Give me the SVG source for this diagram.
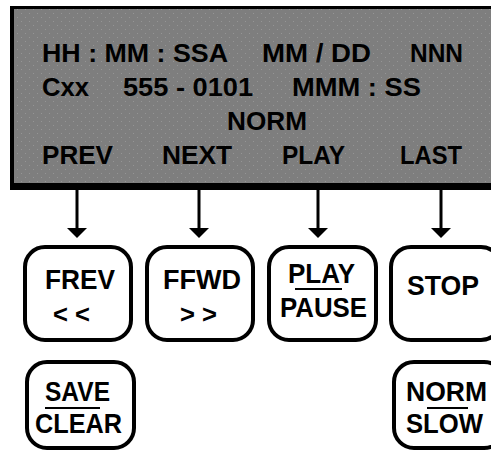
<svg xmlns="http://www.w3.org/2000/svg" width="491" height="453" viewBox="0 0 491 453">
<defs>
<style>
.t{font-family:"Liberation Sans",Arial,sans-serif;font-weight:bold;font-size:26px;fill:#000}
.b{font-size:28px}
.btn{fill:#fff;stroke:#000;stroke-width:4}
.conn line{stroke:#000;stroke-width:3}
.conn path{fill:#000}
.sep{stroke:#000;stroke-width:2}
</style>
<pattern id="dots" width="8" height="8" patternUnits="userSpaceOnUse">
<rect width="8" height="8" fill="#7e7e7e"/>
<rect x="1" y="1" width="1" height="1" fill="#959595"/>
<rect x="5" y="5" width="1" height="1" fill="#959595"/>
</pattern>
</defs>
<rect width="491" height="453" fill="#fff"/>
<g id="screen">
<rect x="10" y="6" width="495" height="184" fill="#000"/>
<rect x="14" y="9" width="491" height="174" fill="url(#dots)"/>
<text class="t" x="42" y="62" textLength="186" lengthAdjust="spacingAndGlyphs">HH : MM : SSA</text>
<text class="t" x="262" y="62" textLength="109" lengthAdjust="spacingAndGlyphs">MM / DD</text>
<text class="t" x="410" y="62" textLength="53" lengthAdjust="spacingAndGlyphs">NNN</text>
<text class="t" x="42" y="96" textLength="47" lengthAdjust="spacingAndGlyphs">Cxx</text>
<text class="t" x="123" y="96" textLength="130" lengthAdjust="spacingAndGlyphs">555 - 0101</text>
<text class="t" x="292" y="96" textLength="129" lengthAdjust="spacingAndGlyphs">MMM : SS</text>
<text class="t" x="227" y="130" textLength="80" lengthAdjust="spacingAndGlyphs">NORM</text>
<text class="t" x="42" y="164" textLength="71" lengthAdjust="spacingAndGlyphs">PREV</text>
<text class="t" x="162" y="164" textLength="70" lengthAdjust="spacingAndGlyphs">NEXT</text>
<text class="t" x="282" y="164" textLength="63" lengthAdjust="spacingAndGlyphs">PLAY</text>
<text class="t" x="400" y="164" textLength="62" lengthAdjust="spacingAndGlyphs">LAST</text>
</g>
<g id="connectors" class="conn">
<line x1="77" y1="190" x2="77" y2="230"/>
<path d="M67,228 L87,228 L77,238 Z"/>
<line x1="199" y1="190" x2="199" y2="230"/>
<path d="M189,228 L209,228 L199,238 Z"/>
<line x1="318" y1="190" x2="318" y2="230"/>
<path d="M308,228 L328,228 L318,238 Z"/>
<line x1="441" y1="190" x2="441" y2="230"/>
<path d="M431,228 L451,228 L441,238 Z"/>
</g>
<g id="btn-frev">
<rect class="btn" x="25" y="247" width="106" height="93" rx="20"/>
<text class="t b" x="45" y="289" textLength="70" lengthAdjust="spacingAndGlyphs">FREV</text>
<text class="t" x="53" y="323" textLength="37" lengthAdjust="spacingAndGlyphs">&lt; &lt;</text>
</g>
<g id="btn-ffwd">
<rect class="btn" x="147" y="247" width="106" height="93" rx="20"/>
<text class="t b" x="163" y="289" textLength="78" lengthAdjust="spacingAndGlyphs">FFWD</text>
<text class="t" x="180" y="323" textLength="37" lengthAdjust="spacingAndGlyphs">&gt; &gt;</text>
</g>
<g id="btn-play">
<rect class="btn" x="269" y="247" width="107" height="93" rx="20"/>
<text class="t b" x="288" y="283" textLength="67" lengthAdjust="spacingAndGlyphs">PLAY</text>
<line class="sep" x1="295" y1="289" x2="342" y2="289"/>
<text class="t b" x="280" y="317" textLength="87" lengthAdjust="spacingAndGlyphs">PAUSE</text>
</g>
<g id="btn-stop">
<rect class="btn" x="391" y="247" width="110" height="93" rx="20"/>
<text class="t b" x="407" y="295" textLength="72" lengthAdjust="spacingAndGlyphs">STOP</text>
</g>
<g id="btn-save">
<rect class="btn" x="27" y="362" width="107" height="86" rx="20"/>
<text class="t b" x="45" y="401" textLength="65" lengthAdjust="spacingAndGlyphs">SAVE</text>
<line class="sep" x1="45" y1="408" x2="100" y2="408"/>
<text class="t b" x="35" y="433" textLength="87" lengthAdjust="spacingAndGlyphs">CLEAR</text>
</g>
<g id="btn-norm">
<rect class="btn" x="394" y="362" width="110" height="86" rx="20"/>
<text class="t b" x="406" y="401" textLength="81" lengthAdjust="spacingAndGlyphs">NORM</text>
<line class="sep" x1="427" y1="408" x2="468" y2="408"/>
<text class="t b" x="406" y="433" textLength="77" lengthAdjust="spacingAndGlyphs">SLOW</text>
</g>
</svg>
